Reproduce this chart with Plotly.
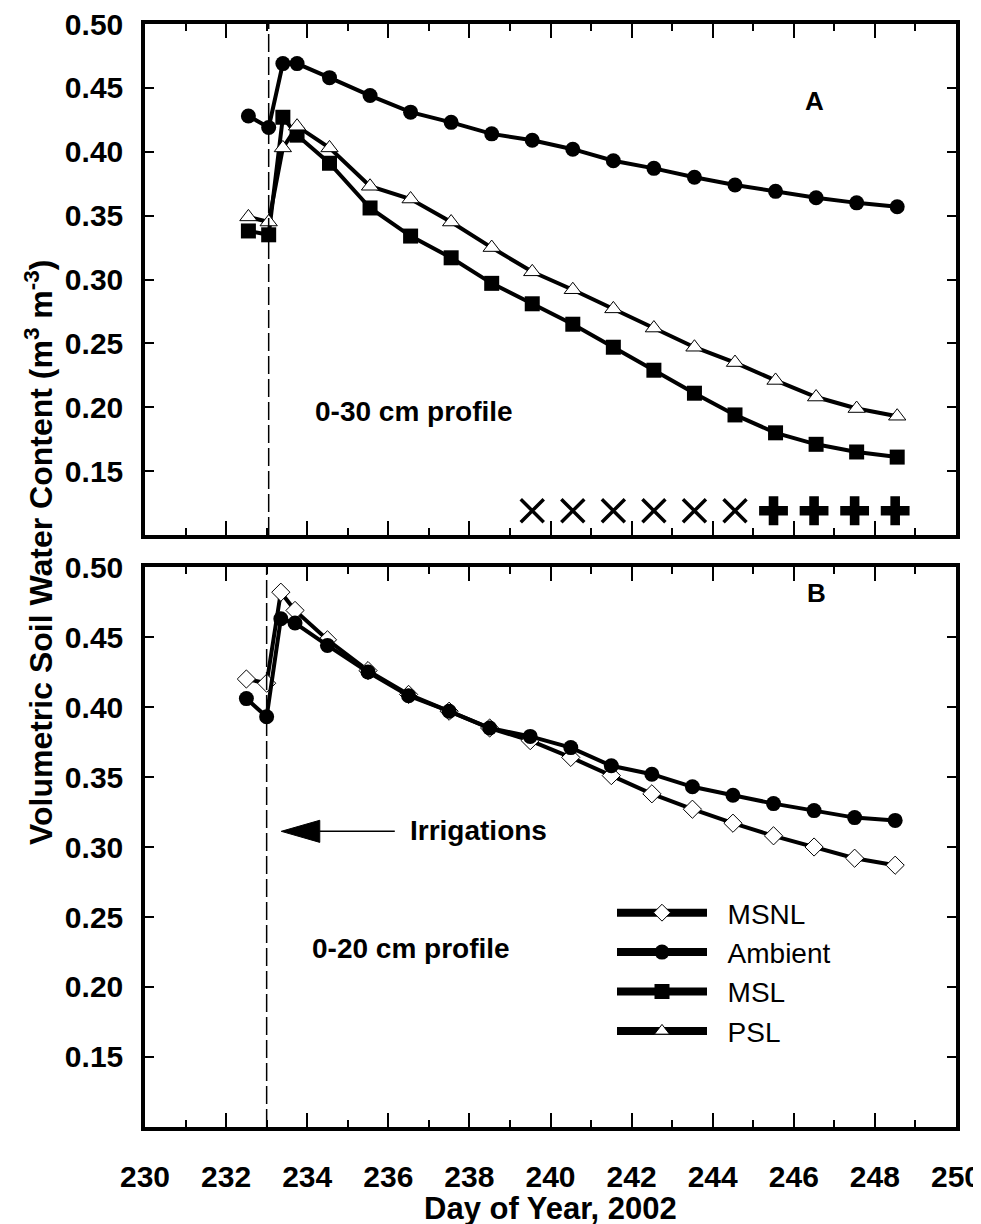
import plotly.graph_objects as go

# ---------------- data ----------------
days_a = [232.55, 233.05, 233.4, 233.75, 234.55, 235.55, 236.55, 237.55, 238.55, 239.55,
          240.55, 241.55, 242.55, 243.55, 244.55, 245.55, 246.55, 247.55, 248.55]
ambient_a = [0.428, 0.419, 0.469, 0.469, 0.458, 0.444, 0.431, 0.423, 0.414, 0.409,
             0.402, 0.393, 0.387, 0.380, 0.374, 0.369, 0.364, 0.360, 0.357]
msl_a = [0.338, 0.335, 0.427, 0.413, 0.391, 0.356, 0.334, 0.317, 0.297, 0.281,
         0.265, 0.247, 0.229, 0.211, 0.194, 0.180, 0.171, 0.165, 0.161]
psl_a = [0.349, 0.345, 0.403, 0.420, 0.403, 0.373, 0.363, 0.345, 0.325, 0.306,
         0.292, 0.277, 0.262, 0.247, 0.235, 0.221, 0.208, 0.199, 0.193]

days_b = [232.5, 233.0, 233.35, 233.7, 234.5, 235.5, 236.5, 237.5, 238.5, 239.5,
          240.5, 241.5, 242.5, 243.5, 244.5, 245.5, 246.5, 247.5, 248.5]
ambient_b = [0.406, 0.393, 0.463, 0.460, 0.444, 0.425, 0.408, 0.397, 0.385, 0.379,
             0.371, 0.358, 0.352, 0.343, 0.337, 0.331, 0.326, 0.321, 0.319]
msnl_b = [0.420, 0.417, 0.482, 0.469, 0.448, 0.426, 0.409, 0.397, 0.385, 0.376,
          0.364, 0.351, 0.338, 0.327, 0.317, 0.308, 0.300, 0.292, 0.287]

# significance markers in panel A
sig_x_days = [239.55, 240.55, 241.55, 242.55, 243.55, 244.55]
sig_plus_days = [245.5, 246.5, 247.5, 248.5]
sig_level = 0.119

irrigation_day_a = 233.05
irrigation_day_b = 233.0

y_ticks = [0.15, 0.20, 0.25, 0.30, 0.35, 0.40, 0.45, 0.50]
y_ticklabels = ["0.15", "0.20", "0.25", "0.30", "0.35", "0.40", "0.45", "0.50"]
x_ticks = [230, 232, 234, 236, 238, 240, 242, 244, 246, 248, 250]

legend_names = ["MSNL", "Ambient", "MSL", "PSL"]

FONT = "Liberation Sans, Arial, sans-serif"
LW = 4
MS = 15

styles = {
    "MSNL": dict(symbol="diamond", size=14, color="white", line=dict(color="black", width=1)),
    "Ambient": dict(symbol="circle", size=MS, color="black"),
    "MSL": dict(symbol="square", size=MS, color="black"),
    "PSL": dict(symbol="triangle-up", size=MS, color="white", line=dict(color="black", width=1)),
}

fig = go.Figure()

# Panel B
fig.add_trace(go.Scatter(x=days_b, y=msnl_b, mode="lines+markers", name="MSNL",
                         line=dict(color="black", width=LW), marker=styles["MSNL"],
                         xaxis="x2", yaxis="y2", showlegend=False))
fig.add_trace(go.Scatter(x=days_b, y=ambient_b, mode="lines+markers", name="Ambient",
                         line=dict(color="black", width=LW), marker=styles["Ambient"],
                         xaxis="x2", yaxis="y2", showlegend=False))

# Panel A
fig.add_trace(go.Scatter(x=days_a, y=ambient_a, mode="lines+markers", name="Ambient",
                         line=dict(color="black", width=LW), marker=styles["Ambient"],
                         xaxis="x", yaxis="y", showlegend=False))
fig.add_trace(go.Scatter(x=days_a, y=msl_a, mode="lines+markers", name="MSL",
                         line=dict(color="black", width=LW), marker=styles["MSL"],
                         xaxis="x", yaxis="y", showlegend=False))
fig.add_trace(go.Scatter(x=days_a, y=psl_a, mode="lines+markers", name="PSL",
                         line=dict(color="black", width=LW), marker=styles["PSL"],
                         xaxis="x", yaxis="y", showlegend=False))
fig.add_trace(go.Scatter(x=sig_x_days, y=[sig_level] * len(sig_x_days), mode="markers",
                         marker=dict(symbol="x-thin", size=23,
                                     line=dict(color="black", width=3.5)),
                         xaxis="x", yaxis="y", showlegend=False))
fig.add_trace(go.Scatter(x=sig_plus_days, y=[sig_level] * len(sig_plus_days), mode="markers",
                         marker=dict(symbol="cross", size=24, color="black"),
                         xaxis="x", yaxis="y", showlegend=False))

# legend entries (legend-only, no data drawn)
for nm in legend_names:
    m = dict(styles[nm])
    m["size"] = 13 if nm in ("MSNL", "PSL") else 15
    fig.add_trace(go.Scatter(x=[None], y=[None], mode="lines+markers",
                             name="\u00a0\u00a0" + nm,
                             line=dict(color="black", width=8), marker=m,
                             xaxis="x2", yaxis="y2", showlegend=True))

tickfont = dict(family=FONT, size=30, color="black", weight="bold")

common_x = dict(range=[230, 250], tickvals=x_ticks, ticks="inside", ticklen=14, tickwidth=2,
                tickcolor="black", showline=True, linewidth=3.5, linecolor="black",
                mirror="ticks", showgrid=False, zeroline=False, automargin=False,
                ticklabeloverflow="allow",
                minor=dict(dtick=1, ticks="inside", ticklen=7, tickwidth=2, tickcolor="black"))
common_y = dict(range=[0.10, 0.50], tickvals=y_ticks, ticktext=y_ticklabels, ticks="inside",
                ticklen=9, tickwidth=2, tickcolor="black", showline=True, linewidth=3.5,
                linecolor="black", mirror="ticks", showgrid=False, zeroline=False,
                tickfont=tickfont, ticklabelstandoff=12, automargin=False,
                ticklabeloverflow="allow")

fig.update_layout(
    width=981, height=1224,
    margin=dict(l=137, r=33, t=16, b=105, autoexpand=False),
    paper_bgcolor="white", plot_bgcolor="white",
    font=dict(family=FONT, color="black"),
    xaxis=dict(common_x, domain=[0, 1], anchor="y", showticklabels=False),
    yaxis=dict(common_y, domain=[0.5367, 1], anchor="x"),
    xaxis2=dict(common_x, domain=[0, 1], anchor="y2", showticklabels=True,
                tickfont=tickfont, ticklabelstandoff=20),
    yaxis2=dict(common_y, domain=[0, 0.5077], anchor="x2"),
    legend=dict(x=(604 - 137) / 811, y=1 - (880 - 16) / 1103, xanchor="left", yanchor="top",
                font=dict(family=FONT, size=28, color="black"),
                bgcolor="rgba(0,0,0,0)", itemwidth=90, tracegroupgap=0),
    showlegend=True,
)

# dashed irrigation lines
fig.add_shape(type="line", xref="x", yref="y domain", x0=irrigation_day_a, x1=irrigation_day_a,
              y0=0, y1=1, line=dict(color="black", width=1.5, dash="18px,5px"))
fig.add_shape(type="line", xref="x2", yref="y2 domain", x0=irrigation_day_b, x1=irrigation_day_b,
              y0=0, y1=1, line=dict(color="black", width=1.5, dash="18px,5px"))

# irrigation arrow (panel B)
fig.add_shape(type="line", xref="x2", yref="y2", x0=234.3, x1=236.16, y0=0.3112, y1=0.3112,
              line=dict(color="black", width=1.5))
fig.add_shape(type="path", xref="x2", yref="y2",
              path="M 233.36,0.3112 L 234.31,0.3191 L 234.31,0.3033 Z",
              fillcolor="black", line=dict(color="black", width=1))

bold = dict(family=FONT, color="black", weight="bold")
ann = [
    dict(text="A", x=806, y=93, size=26),
    dict(text="B", x=808, y=585, size=26),
    dict(text="0-30 cm profile", x=406, y=403, size=28),
    dict(text="0-20 cm profile", x=403, y=940, size=28),
]
for a in ann:
    fig.add_annotation(text=a["text"], xref="paper", yref="paper",
                       x=(a["x"] - 137) / 811, y=1 - (a["y"] - 16) / 1103,
                       xanchor="center", yanchor="middle", showarrow=False,
                       font=dict(bold, size=a["size"]))
fig.add_annotation(text="Irrigations", xref="paper", yref="paper",
                   x=(400 - 137) / 811, y=1 - (822 - 16) / 1103, xanchor="left", yanchor="middle",
                   showarrow=False, font=dict(bold, size=28))
fig.add_annotation(text="Day of Year, 2002", xref="paper", yref="paper",
                   x=0.5, y=1 - (1200 - 16) / 1103, xanchor="center", yanchor="middle",
                   showarrow=False, font=dict(bold, size=31))
fig.add_annotation(text="Volumetric Soil Water Content (m<sup>3</sup> m<sup>-3</sup>)",
                   xref="paper", yref="paper", x=(31 - 137) / 811, y=1 - (545 - 16) / 1103,
                   xanchor="center", yanchor="middle", textangle=-90, showarrow=False,
                   font=dict(bold, size=32))

fig.write_html("out.html")
